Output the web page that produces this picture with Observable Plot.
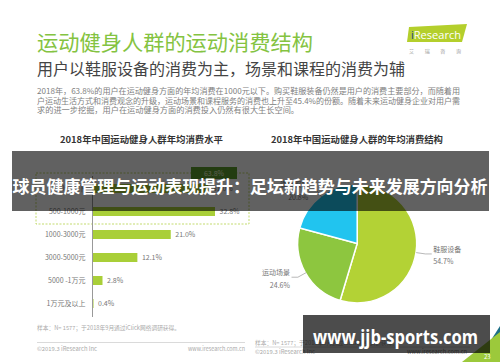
<!DOCTYPE html>
<html><head><meta charset="utf-8">
<script src="https://cdn.jsdelivr.net/npm/d3@7"></script>
<script src="https://cdn.jsdelivr.net/npm/@observablehq/plot@0.6"></script>
<style>
html,body{margin:0;padding:0;background:#fff;}
#slide{position:relative;width:500px;height:362px;overflow:hidden;background:#fff;}
#slide > *{position:absolute;left:0;top:0;}
</style></head><body><div id="slide"></div>
<script>
// ---------- data ----------
const costCategories = ["500元以下", "500-1000元", "1000-3000元", "3000-5000元", "5000 -1万元", "1万元及以上"];
const costShares = [31.0, 32.8, 21.0, 12.1, 2.8, 0.4];
const groupedShareLabel = "63.8%";
const spendCategories = ["鞋服设备", "运动场景", "课程服务"];
const spendShares = [54.7, 24.6, 20.8];

// ---------- texts ----------
const titleText = "运动健身人群的运动消费结构";
const subtitleText = "用户以鞋服设备的消费为主，场景和课程的消费为辅";
const paragraphLines = [
  "2018年，63.8%的用户在运动健身方面的年均消费在1000元以下。购买鞋服装备仍然是用户的消费主要部分，而随着用",
  "户运动生活方式和消费观念的升级，运动场景和课程服务的消费也上升至45.4%的份额。随着未来运动健身企业对用户需",
  "求的进一步挖掘，用户在运动健身方面的消费投入仍然有很大生长空间。"
];
const leftChartTitle = "2018年中国运动健身人群年均消费水平";
const rightChartTitle = "2018年中国运动健身人群的年均消费结构";
const sampleNote = "样本：N= 1577；于2018年9月通过iClick网络调研获得。";
const copyrightText = "©2019.3  iResearch Inc";
const siteText = "www.iresearch.com.cn";
const bannerText = "球员健康管理与运动表现提升：足坛新趋势与未来发展方向分析";
const watermarkText = "www.jjb-sports.com";

const FONT = '"Noto Sans CJK SC","Noto Sans",sans-serif';
const slide = document.getElementById("slide");
const NS = "http://www.w3.org/2000/svg";
function el(parent, tag, attrs, text) {
  const e = document.createElementNS(NS, tag);
  for (const k in attrs) e.setAttribute(k, attrs[k]);
  if (text != null) e.textContent = text;
  parent.appendChild(e);
  return e;
}
function layerSvg() {
  const s = document.createElementNS(NS, "svg");
  s.setAttribute("width", 500); s.setAttribute("height", 362);
  s.style.fontFamily = FONT;
  slide.appendChild(s);
  return s;
}

// ---------- background slide texts ----------
const bg = layerSvg();
el(bg, "text", {x: 37, y: 41, "dominant-baseline": "central", "font-size": 21, fill: "#84c341", textLength: 276, lengthAdjust: "spacingAndGlyphs"}, titleText);
el(bg, "text", {x: 37, y: 68, "dominant-baseline": "central", "font-size": 16, fill: "#444", textLength: 368, lengthAdjust: "spacingAndGlyphs"}, subtitleText);
paragraphLines.forEach((t, i) => {
  const a = {x: 37, y: 90 + i * 9.7, "dominant-baseline": "central", "font-size": 8.2, fill: "#808080"};
  if (i < 2) { a.textLength = 423; a.lengthAdjust = "spacingAndGlyphs"; }
  el(bg, "text", a, t);
});
// iResearch logo
el(bg, "polygon", {points: "409,27 467,24 462,42 407,42", fill: "#b4cf2c"});
const logo = el(bg, "text", {x: 411, y: 34, "dominant-baseline": "central", "font-size": 11, fill: "#fff", "font-family": "Open Sans, sans-serif", textLength: 50, lengthAdjust: "spacingAndGlyphs"});
el(logo, "tspan", {fill: "#1f3f8f"}, "i");
el(logo, "tspan", {}, "Research");
el(bg, "text", {x: 409, y: 50, "dominant-baseline": "central", "font-size": 5, fill: "#999", textLength: 52, lengthAdjust: "spacing"}, "艾瑞咨询");
// chart titles
el(bg, "text", {x: 141.5, y: 139, "text-anchor": "middle", "dominant-baseline": "central", "font-size": 8.6, "font-weight": "bold", fill: "#333", textLength: 163, lengthAdjust: "spacingAndGlyphs"}, leftChartTitle);
el(bg, "text", {x: 357, y: 139, "text-anchor": "middle", "dominant-baseline": "central", "font-size": 8.6, "font-weight": "bold", fill: "#333", textLength: 172, lengthAdjust: "spacingAndGlyphs"}, rightChartTitle);
// footers
el(bg, "text", {x: 37, y: 328, "dominant-baseline": "central", "font-size": 5.6, fill: "#aaa", textLength: 143, lengthAdjust: "spacingAndGlyphs"}, sampleNote);
el(bg, "line", {x1: 37, x2: 245, y1: 342.5, y2: 342.5, stroke: "#d0d0d0", "stroke-width": 0.8});
el(bg, "text", {x: 37, y: 349, "dominant-baseline": "central", "font-size": 5.6, fill: "#aaa", textLength: 60, lengthAdjust: "spacingAndGlyphs"}, copyrightText);
el(bg, "text", {x: 188, y: 349, "dominant-baseline": "central", "font-size": 5.6, fill: "#aaa", textLength: 57, lengthAdjust: "spacingAndGlyphs"}, siteText);
el(bg, "text", {x: 255, y: 343, "dominant-baseline": "central", "font-size": 5.6, fill: "#aaa", textLength: 143, lengthAdjust: "spacingAndGlyphs"}, sampleNote);
el(bg, "line", {x1: 255, x2: 470, y1: 347, y2: 347, stroke: "#d0d0d0", "stroke-width": 0.8});
el(bg, "text", {x: 255, y: 352, "dominant-baseline": "central", "font-size": 5.6, fill: "#aaa", textLength: 60, lengthAdjust: "spacingAndGlyphs"}, copyrightText);
el(bg, "text", {x: 407, y: 352, "dominant-baseline": "central", "font-size": 5.6, fill: "#888", textLength: 60, lengthAdjust: "spacingAndGlyphs"}, siteText);
// dashed group box
el(bg, "rect", {x: 36, y: 173, width: 213, height: 51, fill: "none", stroke: "#b4d24a", "stroke-width": 0.8, "stroke-dasharray": "2,1.5"});

// ---------- bar chart (Plot) ----------
const costData = costCategories.map((c, i) => ({category: c, share: costShares[i]}));
const barChart = Plot.plot({
  width: 250, height: 150,
  marginLeft: 92, marginRight: 8, marginTop: 4, marginBottom: 5,
  style: {background: "transparent", color: "#777", fontFamily: FONT, fontSize: "7px", overflow: "visible"},
  x: {domain: [0, 40], axis: null},
  y: {domain: costCategories, paddingInner: 0.6, paddingOuter: 0.3},
  marks: [
    Plot.barX(costData, {x: "share", y: "category", fill: "#a9cf38"}),
    Plot.ruleX([0], {stroke: "#999", strokeWidth: 1}),
    Plot.text(costData, {x: "share", y: "category", text: d => d.share.toFixed(1) + "%", dx: 4, textAnchor: "start", fill: "#777", fontSize: 7}),
    Plot.axisY({tickSize: 0, tickPadding: 7, fontSize: 7, fill: "#777", label: null})
  ]
});
barChart.style.left = "0px"; barChart.style.top = "172px";
slide.appendChild(barChart);

// group label box
const gl = layerSvg();
el(gl, "rect", {x: 191, y: 167, width: 46, height: 12, fill: "#5c9e2e"});
el(gl, "text", {x: 214, y: 173, "text-anchor": "middle", "dominant-baseline": "central", "font-size": 7, fill: "#e6f3c8"}, groupedShareLabel);

// ---------- pie chart (Plot) ----------
const spendData = spendCategories.map((c, i) => ({category: c, share: spendShares[i]}));
const pieArcs = d3.pie().sort(null).value(d => d.share)(spendData);
const pieColor = d3.scaleOrdinal(spendCategories, ["#b3d235", "#8dc63f", "#21c4ef"]);
const leaderData = [], labelData = [];
pieArcs.forEach(a => {
  const m = (a.startAngle + a.endAngle) / 2;
  const sx = Math.sin(m), sy = Math.cos(m);
  const side = sx >= 0 ? 1 : -1;
  const ex = 1.15 * sx, ey = 1.15 * sy;
  leaderData.push({category: a.data.category, x: sx, y: sy});
  leaderData.push({category: a.data.category, x: ex, y: ey});
  leaderData.push({category: a.data.category, x: ex + side * 0.1, y: ey});
  labelData.push({category: a.data.category, share: a.data.share, x: ex + side * 0.1, y: ey, side});
});
function pieMark(index, scales) {
  const cx = scales.x(0), cy = scales.y(0), r = scales.x(1) - scales.x(0);
  const g = d3.create("svg:g").attr("transform", `translate(${cx},${cy})`);
  const arc = d3.arc().innerRadius(0).outerRadius(r);
  g.selectAll("path").data(pieArcs).join("path")
    .attr("d", arc)
    .attr("fill", d => pieColor(d.data.category))
    .attr("stroke", "#fff").attr("stroke-width", 1.5);
  return g.node();
}
const labelText = d => d.category + "\n" + d.share.toFixed(1) + "%";
const pieChart = Plot.plot({
  width: 250, height: 150,
  style: {background: "transparent", color: "#777", fontFamily: FONT, fontSize: "7px", overflow: "visible"},
  x: {domain: [-1, 1], range: [47.7, 166.7], axis: null},
  y: {domain: [-1, 1], range: [131, 12], axis: null},
  marks: [
    pieMark,
    Plot.line(leaderData, {x: "x", y: "y", z: "category", stroke: "#999", strokeWidth: 0.7}),
    Plot.text(labelData, {filter: d => d.side > 0, x: "x", y: "y", text: labelText, textAnchor: "start", dx: 2, lineHeight: 1.8, fill: "#777", fontSize: 7}),
    Plot.text(labelData, {filter: d => d.side < 0, x: "x", y: "y", text: labelText, textAnchor: "end", dx: -2, lineHeight: 1.8, fill: "#777", fontSize: 7})
  ]
});
pieChart.style.left = "250px"; pieChart.style.top = "172px";
slide.appendChild(pieChart);

// ---------- overlays ----------
const ov = layerSvg();
el(ov, "polygon", {points: "486,348 500,326 500,346", fill: "#1d6f86"});
el(ov, "polygon", {points: "462,362 500,332 500,362", fill: "#9cc93b"});
el(ov, "text", {x: 484, y: 356, "dominant-baseline": "central", "font-size": 6, fill: "#fff"}, "23");
el(ov, "rect", {x: 12, y: 151, width: 477, height: 60, fill: "#000", "fill-opacity": 0.62});
el(ov, "text", {x: 12.5, y: 185.5, "dominant-baseline": "central", "font-size": 17, "font-weight": "bold", fill: "#fff", textLength: 475, lengthAdjust: "spacingAndGlyphs"}, bannerText);
el(ov, "rect", {x: 303, y: 315, width: 187, height: 38, fill: "#000", "fill-opacity": 0.7});
el(ov, "text", {x: 313, y: 344, "font-size": 19, "font-weight": "bold", fill: "#fff", "font-family": "Open Sans, DejaVu Sans, sans-serif", textLength: 165, lengthAdjust: "spacingAndGlyphs"}, watermarkText);
</script>
</body></html>
